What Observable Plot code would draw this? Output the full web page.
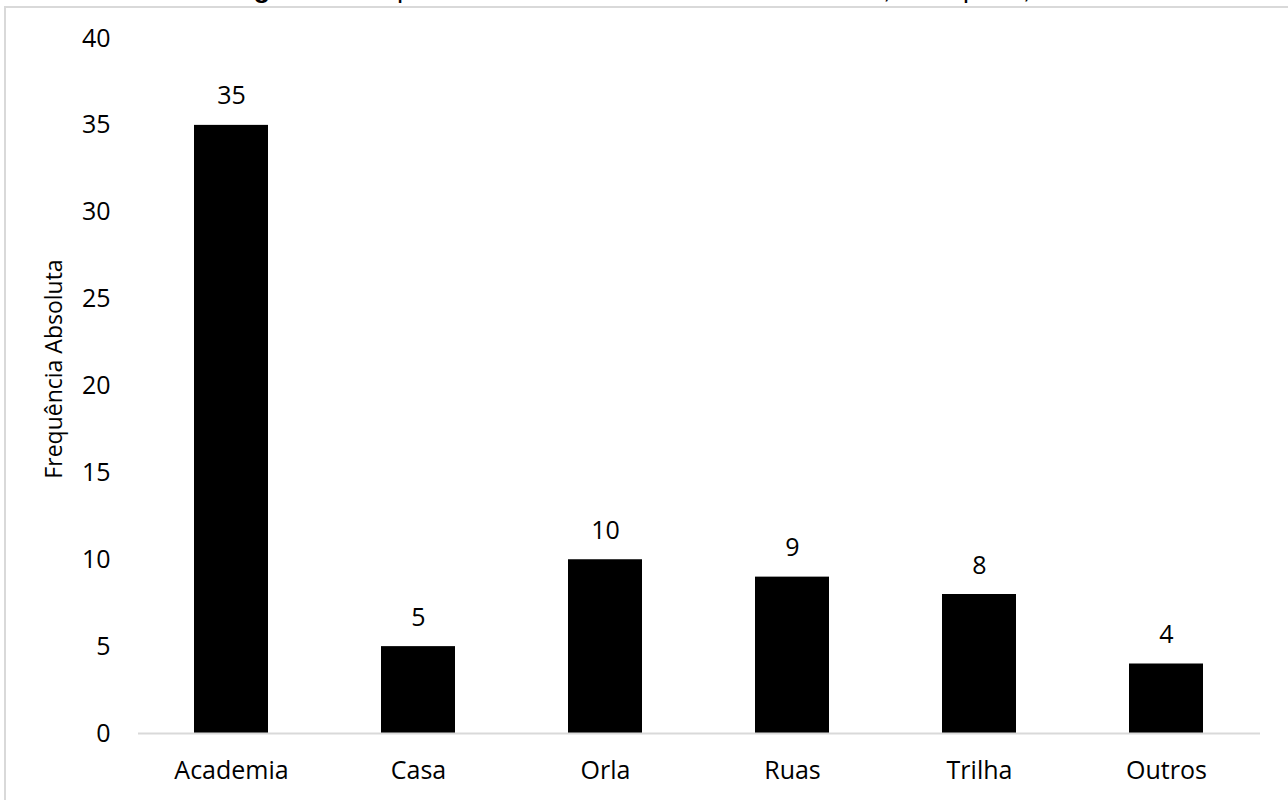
<!DOCTYPE html>
<html>
<head>
<meta charset="utf-8">
<script src="https://cdn.jsdelivr.net/npm/d3@7"></script>
<script src="https://cdn.jsdelivr.net/npm/@observablehq/plot@0.6"></script>
<style>
  html, body { margin: 0; padding: 0; background: #fff; overflow: hidden; width: 1288px; height: 800px; }
  #frame { position: absolute; left: 4px; top: 6px; width: 1400px; height: 900px; border: 2px solid #d9d9d9; box-sizing: border-box; }
  #title { position: absolute; left: 0; width: 1290px; top: -25px; text-align: center;
           font-family: "Liberation Sans", Arial, sans-serif; font-size: 26.6px; color: #000; white-space: nowrap; line-height: 28px; }
  #chart { position: absolute; left: 0; top: 0; }
</style>
</head>
<body>
<div id="frame"></div>
<div id="title"><b>Figura 4.</b> Frequência da Variável Local de Treinamento, valor p = 0,00</div>
<div id="chart"></div>
<script>
// Local de treinamento: frequência absoluta por categoria
const categories = ["Academia", "Casa", "Orla", "Ruas", "Trilha", "Outros"];
const counts = [35, 5, 10, 9, 8, 4];
const yTicks = [0, 5, 10, 15, 20, 25, 30, 35, 40];
const yTitle = "Frequência Absoluta";

const data = categories.map((c, i) => ({local: c, n: counts[i]}));

const chart = Plot.plot({
  width: 1288,
  height: 800,
  marginLeft: 138,
  marginRight: 28,
  marginTop: 38,
  marginBottom: 67,
  style: {fontFamily: "'Open Sans', sans-serif", fontSize: "25px", color: "#000", background: "transparent", overflow: "visible"},
  x: {domain: categories, paddingInner: 0.604, paddingOuter: 0.302},
  y: {domain: [0, 40]},
  marks: [
    Plot.barY(data, {x: "local", y: "n", fill: "#000"}),
    Plot.ruleY([0], {stroke: "#d9d9d9", strokeWidth: 2}),
    Plot.text(data, {x: "local", y: "n", text: d => String(d.n), dy: -29, fill: "#000"}),
    Plot.axisY({ticks: yTicks, tickSize: 0, tickPadding: 28, label: null}),
    Plot.axisX({tickSize: 0, tickPadding: 28, label: null}),
    Plot.text([yTitle], {frameAnchor: "left", textAnchor: "middle", rotate: -90, dx: -84, dy: -17, fontSize: 23, fill: "#000"})
  ]
});
document.getElementById("chart").appendChild(chart);
</script>
</body>
</html>
